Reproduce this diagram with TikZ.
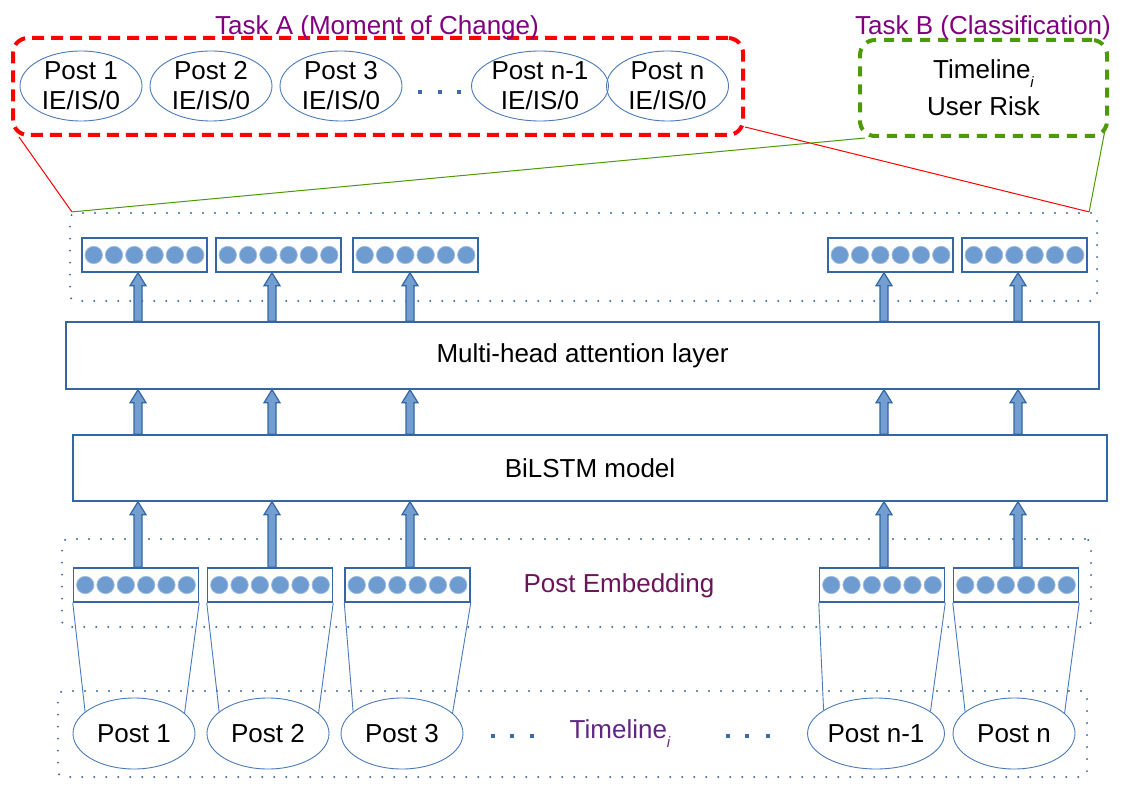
\documentclass[tikz,border=0pt]{standalone}
\usepackage{fontspec}
\setmainfont{Liberation Sans}
\usepackage{tikz}
\usetikzlibrary{positioning, shapes.geometric, calc}

\definecolor{boxblue}{RGB}{52,101,164}
\definecolor{arrowblue}{RGB}{114,159,207}
\definecolor{cellblue}{RGB}{110,155,208}
\definecolor{ellblue}{RGB}{74,122,184}
\definecolor{dotblue}{RGB}{61,106,170}
\definecolor{taskred}{RGB}{255,0,0}
\definecolor{taskgreen}{RGB}{78,154,6}
\definecolor{taskpurple}{RGB}{128,0,128}
\definecolor{embpurple}{RGB}{107,20,90}
\definecolor{tlpurple}{RGB}{94,40,130}

% block arrow from #1 (bottom) up to #2 (tip)
\newcommand{\blockup}[2]{%
  \filldraw[blockarr] ($(#1)+(-4,0)$) -- ($(#2)+(-4,13)$) -- ($(#2)+(-8,13)$) -- (#2)
    -- ($(#2)+(8,13)$) -- ($(#2)+(4,13)$) -- ($(#1)+(4,0)$) -- cycle;}
% vector box with six cells
\newcommand{\vecrow}[2]{%
  \node[vecbox] (#1) at (#2) {};
  \foreach \k in {0,...,5}
    \filldraw[cell] ($(#1.center)+(-50.75+\k*20.3,0)$) circle[radius=8.7pt];}
% low italic index
\newcommand{\idx}{\raisebox{-9pt}{\fontsize{15}{15}\selectfont\itshape i}}

\begin{document}
\begin{tikzpicture}[
  x=1pt, y=-1pt,
  every node/.style={font=\fontsize{26}{30}\selectfont},
  layerbox/.style={draw=boxblue, line width=1.5pt, inner sep=0pt},
  vecbox/.style={draw=boxblue, line width=1.5pt, fill=white, minimum width=125pt, minimum height=34pt, inner sep=0pt},
  cell/.style={fill=cellblue, draw=cellblue!65!white, line width=0.7pt},
  blockarr/.style={fill=arrowblue, draw=boxblue, line width=1.2pt},
  postnode/.style={ellipse, draw=ellblue, line width=0.9pt, minimum width=122pt, minimum height=71pt, inner sep=0pt, align=center},
  dotbox/.style={draw=dotblue, line width=2.2pt, line cap=round, dash pattern=on 0pt off 12pt, rounded corners=6pt, inner sep=0pt},
  funnel/.style={draw=ellblue, line width=0.9pt},
  taskbox/.style={line width=4pt, rounded corners=15pt, inner sep=0pt},
  tasklbl/.style={text=taskpurple, anchor=base}
]
\useasboundingbox (0,0) rectangle (1123,794);

% Dotted layers
\node[dotbox, minimum width=1027pt, minimum height=88pt] (outlayer) at (583.5,257) {};
\node[dotbox, minimum width=1029pt, minimum height=88pt] (emblayer) at (576.5,583) {};
\node[dotbox, minimum width=1029pt, minimum height=86pt] (tllayer) at (572.5,734) {};

% Model layers
\node[layerbox, minimum width=1033pt, minimum height=67pt] (att) at (582.5,355.5) {Multi-head attention layer};
\node[layerbox, minimum width=1034pt, minimum height=66pt] (lstm) at (590,468) {BiLSTM model};

% Vector boxes
\foreach \i/\cx in {1/144.5,2/278.5,3/415.5,4/890.5,5/1024.5} { \vecrow{out\i}{\cx,255} }
\foreach \i/\cx in {1/136,2/270,3/407.5,4/882,5/1016} { \vecrow{emb\i}{\cx,585} }

% Posts of the timeline
\foreach \i/\cx/\txt in {1/134/Post 1,2/268/Post 2,3/402/Post 3,4/876/Post n-1,5/1014/Post n}
  \node[postnode] (post\i) at (\cx,733.5) {\txt};
\foreach \i in {1,...,5} {
  \draw[funnel] (emb\i.south west) -- (post\i.156);
  \draw[funnel] (emb\i.south east) -- (post\i.22);
}

% Block arrows
\foreach \i/\ax in {1/138,2/272,3/410,4/884,5/1018} {
  \coordinate (ax\i) at (\ax,0);
  \blockup{ax\i |- emb\i.north}{ax\i |- lstm.south}
  \blockup{ax\i |- lstm.north}{ax\i |- att.south}
  \blockup{ax\i |- att.north}{ax\i |- out\i.south}
}

\node[text=embpurple, anchor=base] (emblbl) at (619,592) {Post Embedding};
\node[text=tlpurple, anchor=base] (tllbl) at (620,738) {Timeline\idx};
\foreach \dx in {493,512,532,728,747,768}
  \fill[dotblue] (\dx,736) ++(-2,-2) rectangle ++(4,4);

% Task A: moment of change
\node[taskbox, draw=taskred, dash pattern=on 12pt off 7pt, minimum width=730pt, minimum height=97pt] (taskA) at (378,86.5) {};
\foreach \i/\cx/\txt in {1/81/Post 1,2/211/Post 2,3/341/Post 3,4/540/Post n-1,5/667.5/Post n}
  \node[postnode, minimum height=70pt] (tpost\i) at (\cx,86) {\txt\\IE/IS/0};
\foreach \dx in {420,440,459}
  \fill[dotblue] (\dx,92) ++(-2,-2) rectangle ++(4,4);
\node[tasklbl] (lblA) at (377,35) {Task A (Moment of Change)};

% Task B: classification
\node[taskbox, draw=taskgreen, dash pattern=on 10pt off 8pt, minimum width=247pt, minimum height=96pt, align=center,
  font=\fontsize{26}{37}\selectfont] (taskB) at (983.5,88) {Timeline\idx\\User Risk};
\node[tasklbl] (lblB) at (983,35) {Task B (Classification)};

% Links to the output layer
\coordinate (joinL) at ($(outlayer.north west)+(3,0)$);
\coordinate (joinR) at ($(outlayer.north east)+(-9,0)$);
\draw[taskred, line width=1pt] ($(taskA.south west)+(8,0)$) -- (joinL);
\draw[taskred, line width=1pt] ($(taskA.south east)+(0,-10)$) -- (joinR);
\draw[taskgreen, line width=1pt] ($(taskB.south west)+(7,0)$) -- (joinL);
\draw[taskgreen, line width=1pt] ($(taskB.south east)+(-4,-8)$) -- (joinR);

\end{tikzpicture}
\end{document}
